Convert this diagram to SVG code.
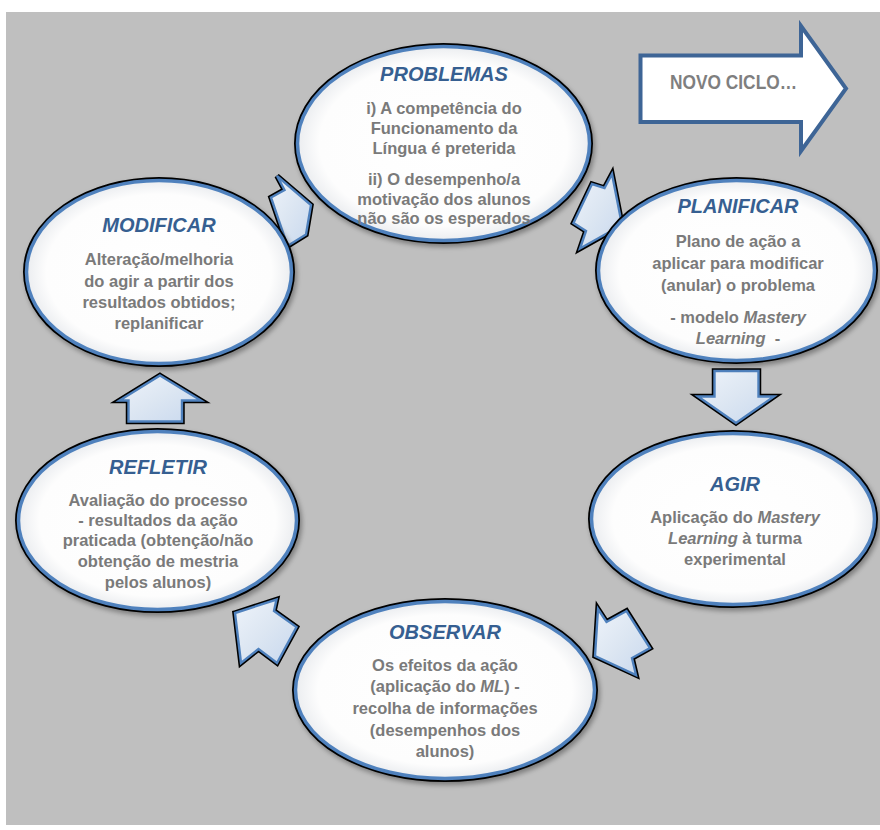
<svg xmlns="http://www.w3.org/2000/svg" width="880" height="830" viewBox="0 0 880 830">
<defs>
<radialGradient id="gE" cx="0.5" cy="0.5" r="0.5">
<stop offset="0" stop-color="#ffffff"/>
<stop offset="0.85" stop-color="#fdfdfd"/>
<stop offset="1" stop-color="#ebedf0"/>
</radialGradient>
<linearGradient id="gA" x1="0" y1="0" x2="1" y2="1">
<stop offset="0" stop-color="#eef3fa"/>
<stop offset="0.5" stop-color="#dce6f2"/>
<stop offset="1" stop-color="#c8d8ee"/>
</linearGradient>
<filter id="sh" x="-20%" y="-20%" width="140%" height="140%">
<feDropShadow dx="2" dy="3" stdDeviation="2.5" flood-color="#000" flood-opacity="0.35"/>
</filter>
<style>
.edge{fill:#000;stroke:#000;stroke-width:7;filter:url(#sh)}
.face{fill:url(#gE);stroke:#4f81bd;stroke-width:3.5}
.aedge{fill:#000;stroke:#000;stroke-width:5.5;stroke-linejoin:miter}
.aface{fill:url(#gA);stroke:#4f81bd;stroke-width:2.4;stroke-linejoin:miter}
.t{font-family:"Liberation Sans",Arial,sans-serif;font-weight:bold;font-style:italic;font-size:20px;fill:#365f91;text-anchor:middle}
.b{font-family:"Liberation Sans",Arial,sans-serif;font-weight:bold;font-size:16.5px;fill:#7a7a7a;text-anchor:middle}
.i{font-style:italic}
.nc{font-family:"Liberation Sans Narrow","Liberation Sans",Arial,sans-serif;font-weight:bold;font-size:21px;fill:#7f7f7f}
</style>
</defs>
<rect x="6" y="12" width="874" height="813" fill="#bfbfbf"/>

<g id="connectors">
<g id="arrow-modificar-problemas">
<polygon class="aedge" points="277,176 284.5,190 271,197.5 287.5,246 306,234.5 311,205"/>
<polygon class="aface" points="277,176 284.5,190 271,197.5 287.5,246 306,234.5 311,205"/>
</g>
<g id="arrow-problemas-planificar">
<polygon class="aedge" points="612,174 604.5,188 592,184 573.5,223 586,231 580,248.5 622,225"/>
<polygon class="aface" points="612,174 604.5,188 592,184 573.5,223 586,231 580,248.5 622,225"/>
</g>
<g id="arrow-planificar-agir">
<polygon class="aedge" points="714.5,371 758.5,371 758.5,396.5 774,396.5 736,423 698,396.5 714.5,396.5"/>
<polygon class="aface" points="714.5,371 758.5,371 758.5,396.5 774,396.5 736,423 698,396.5 714.5,396.5"/>
</g>
<g id="arrow-agir-observar">
<polygon class="aedge" points="598,609 606.5,622 626.5,611 650,648 632,658 636,675 595,656"/>
<polygon class="aface" points="598,609 606.5,622 626.5,611 650,648 632,658 636,675 595,656"/>
</g>
<g id="arrow-observar-refletir">
<polygon class="aedge" points="235,613 276.5,599.5 274,611 296.5,627 277,663 258.5,649 241,663"/>
<polygon class="aface" points="235,613 276.5,599.5 274,611 296.5,627 277,663 258.5,649 241,663"/>
</g>
<g id="arrow-refletir-modificar">
<polygon class="aedge" points="160,375.5 201,400.5 182,400.5 182,421.5 128.5,421.5 128.5,400.5 119.5,400.5"/>
<polygon class="aface" points="160,375.5 201,400.5 182,400.5 182,421.5 128.5,421.5 128.5,400.5 119.5,400.5"/>
</g>
</g>

<g id="node-problemas">
<ellipse class="edge" cx="443.5" cy="143.5" rx="146" ry="97"/>
<ellipse class="face" cx="443.5" cy="143.5" rx="146" ry="97"/>
<text class="t" x="444" y="81">PROBLEMAS</text>
<text class="b" x="444" y="114">i) A competência do</text>
<text class="b" x="444" y="134">Funcionamento da</text>
<text class="b" x="444" y="154">Língua é preterida</text>
<text class="b" x="444" y="185">ii) O desempenho/a</text>
<text class="b" x="444" y="204.5">motivação dos alunos</text>
<text class="b" x="444" y="224">não são os esperados</text>
</g>

<g id="node-planificar">
<ellipse class="edge" cx="736.5" cy="270.5" rx="138" ry="90"/>
<ellipse class="face" cx="736.5" cy="270.5" rx="138" ry="90"/>
<text class="t" x="738" y="213">PLANIFICAR</text>
<text class="b" x="738" y="247">Plano de ação a</text>
<text class="b" x="738" y="269">aplicar para modificar</text>
<text class="b" x="738" y="290.5">(anular) o problema</text>
<text class="b" x="738" y="323">- modelo <tspan class="i">Mastery</tspan></text>
<text class="b" x="738" y="344" xml:space="preserve"><tspan class="i">Learning</tspan>  -</text>
</g>

<g id="node-agir">
<ellipse class="edge" cx="733" cy="519" rx="141.5" ry="85.5"/>
<ellipse class="face" cx="733" cy="519" rx="141.5" ry="85.5"/>
<text class="t" x="735" y="490.5">AGIR</text>
<text class="b" x="735" y="523">Aplicação do <tspan class="i">Mastery</tspan></text>
<text class="b" x="735" y="544"><tspan class="i">Learning</tspan> à turma</text>
<text class="b" x="735" y="565">experimental</text>
</g>

<g id="node-observar">
<ellipse class="edge" cx="445" cy="690" rx="149.5" ry="88.5"/>
<ellipse class="face" cx="445" cy="690" rx="149.5" ry="88.5"/>
<text class="t" x="445" y="639">OBSERVAR</text>
<text class="b" x="445" y="670.5">Os efeitos da ação</text>
<text class="b" x="445" y="692">(aplicação do <tspan class="i">ML</tspan>) -</text>
<text class="b" x="445" y="714">recolha de informações</text>
<text class="b" x="445" y="736">(desempenhos dos</text>
<text class="b" x="445" y="757">alunos)</text>
</g>

<g id="node-refletir">
<ellipse class="edge" cx="157.5" cy="520.5" rx="139" ry="89"/>
<ellipse class="face" cx="157.5" cy="520.5" rx="139" ry="89"/>
<text class="t" x="158" y="474">REFLETIR</text>
<text class="b" x="158" y="505.5">Avaliação do processo</text>
<text class="b" x="158" y="526">- resultados da ação</text>
<text class="b" x="158" y="546">praticada (obtenção/não</text>
<text class="b" x="158" y="567">obtenção de mestria</text>
<text class="b" x="158" y="587.5">pelos alunos)</text>
</g>

<g id="node-modificar">
<ellipse class="edge" cx="159" cy="272" rx="132.5" ry="91.5"/>
<ellipse class="face" cx="159" cy="272" rx="132.5" ry="91.5"/>
<text class="t" x="159" y="232">MODIFICAR</text>
<text class="b" x="159" y="265">Alteração/melhoria</text>
<text class="b" x="159" y="286.5">do agir a partir dos</text>
<text class="b" x="159" y="308">resultados obtidos;</text>
<text class="b" x="159" y="329">replanificar</text>
</g>

<g id="node-novo-ciclo">
<polygon points="640.5,55.5 801,55.5 801,26 846,88.5 801,151 801,122 640.5,122" fill="#ffffff" stroke="#3e6596" stroke-width="4" stroke-linejoin="miter"/>
<text class="nc" x="670" y="89" textLength="127" lengthAdjust="spacingAndGlyphs">NOVO CICLO…</text>
</g>
</svg>
